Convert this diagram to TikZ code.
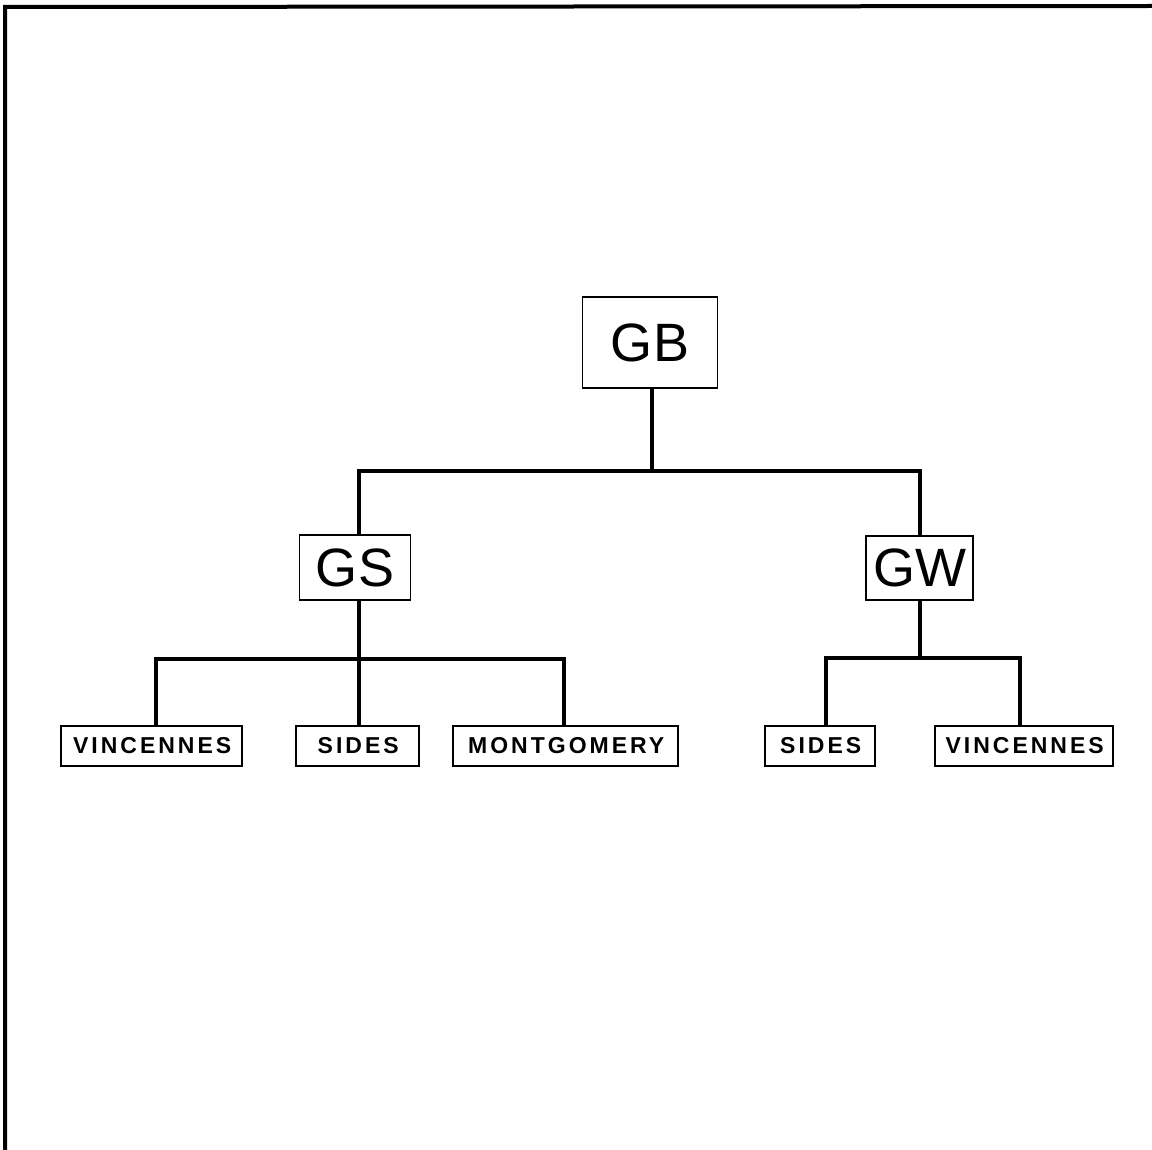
\documentclass[tikz,border=0pt]{standalone}
\usepackage{fontspec}
\setmainfont{Liberation Sans}
\newfontfamily\leaffont[LetterSpace=13]{Liberation Sans Bold}
\begin{document}
\begin{tikzpicture}[x=0.5pt,y=-0.5pt,
  bigbox/.style={draw,line width=0.8pt,inner sep=0pt,font=\fontsize{27}{30}\selectfont},
  leafbox/.style={draw,line width=0.8pt,inner sep=0pt,minimum height=20pt,font=\leaffont\fontsize{11.5}{13}\selectfont},
  conn/.style={line width=1.7pt,line join=miter}]
\useasboundingbox (0,0) rectangle (1152,1150);
\draw[line width=2pt] (5,1150) -- (5,7) -- (1152,6);
% upper nodes
\node[bigbox,minimum width=67.5pt,minimum height=45.5pt] (GB) at (650,342.5) {GB};
\node[bigbox,minimum width=55.5pt,minimum height=32.5pt] (GS) at (355,567.5) {GS};
\node[bigbox,minimum width=53.5pt,minimum height=32pt] (GW) at (919.5,568) {GW};
% leaves
\node[leafbox,minimum width=90.5pt] (V1) at (151.5,746) {\kern0.7pt VINCENNES};
\node[leafbox,minimum width=61.5pt] (S1) at (357.5,746) {\kern0.7pt SIDES};
\node[leafbox,minimum width=112.5pt] (M1) at (565.5,746) {\kern0.7pt MONTGOMERY};
\node[leafbox,minimum width=55pt] (S2) at (820,746) {\kern0.7pt SIDES};
\node[leafbox,minimum width=89pt] (V2) at (1024,746) {\kern0.7pt VINCENNES};
% junctions
\coordinate (r) at (652,471);
\coordinate (bl) at (359,471);
\coordinate (br) at (920,471);
\coordinate (s) at (359,659);
\coordinate (sl) at (156,659);
\coordinate (sr) at (564,659);
\coordinate (w) at (920,658);
\coordinate (wl) at (826,658);
\coordinate (wr) at (1020,658);
% connectors
\draw[conn] (GB.south -| r) -- (r);
\draw[conn] (GS.north -| bl) -- (bl) -- (br) -- (GW.north -| br);
\draw[conn] (GS.south -| s) -- (s) -- (S1.north -| s);
\draw[conn] (V1.north -| sl) -- (sl) -- (sr) -- (M1.north -| sr);
\draw[conn] (GW.south -| w) -- (w);
\draw[conn] (S2.north -| wl) -- (wl) -- (wr) -- (V2.north -| wr);
\end{tikzpicture}
\end{document}
